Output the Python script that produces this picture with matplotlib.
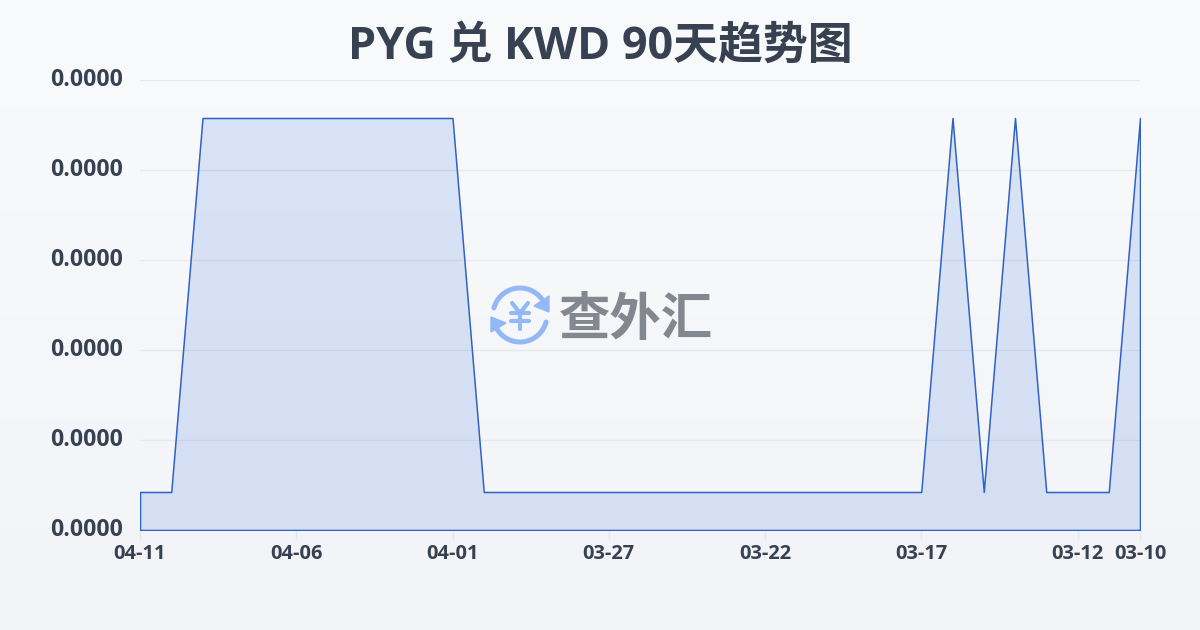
import matplotlib
matplotlib.use('Agg')
import matplotlib.pyplot as plt
import numpy as np
from matplotlib.patches import Arc, Polygon
from matplotlib.transforms import ScaledTranslation

plt.rcParams['font.family'] = ['Open Sans', 'Noto Sans CJK SC', 'DejaVu Sans']

# Rates (they all round to 0.0000 on the axis)
low = 0.0000038
high = 0.0000412
dates = ['04-11', '04-10', '04-09', '04-08', '04-07', '04-06', '04-05', '04-04', '04-03',
         '04-02', '04-01', '03-31', '03-30', '03-29', '03-28', '03-27', '03-26', '03-25',
         '03-24', '03-23', '03-22', '03-21', '03-20', '03-19', '03-18', '03-17', '03-16',
         '03-15', '03-14', '03-13', '03-12', '03-11', '03-10']
rates = [low, low, high, high, high, high, high, high, high, high, high,
         low, low, low, low, low, low, low, low, low, low, low, low, low, low, low,
         high, low, high, low, low, low, high]
xtick_labels = ['04-11', '04-06', '04-01', '03-27', '03-22', '03-17', '03-12', '03-10']
ytick_values = [0, 0.000009, 0.000018, 0.000027, 0.000036, 0.000045]

text_color = '#374151'
line_color = '#2f62c8'
fill_color = (0.165, 0.40, 0.87, 0.15)
grid_color = '#e5e8ec'

fig = plt.figure(figsize=(12, 6.3), dpi=100)

# background gradient
bg = fig.add_axes([0, 0, 1, 1], zorder=0)
bg.imshow(np.linspace(0, 1, 256).reshape(-1, 1), aspect='auto', extent=(0, 1, 0, 1),
          cmap=matplotlib.colors.LinearSegmentedColormap.from_list('bg', ['#f9fafc', '#f3f4f7']))
bg.axis('off')

# main chart, 140..1140 px wide and 80..530 px down
ax = fig.add_axes([140 / 1200, 100 / 630, 1000 / 1200, 450 / 630], zorder=1)
ax.patch.set_alpha(0)
x = list(range(len(dates)))
ax.fill_between(x, rates, 0, facecolor=fill_color, edgecolor=line_color, linewidth=1.1, zorder=3)
ax.set_xlim(0, len(dates) - 1)
ax.set_ylim(0, 0.000045)

ax.set_yticks(ytick_values)
ax.set_yticklabels(['%.4f' % v for v in ytick_values], fontweight='bold', fontsize=16.6, color=text_color)
ax.set_xticks([dates.index(d) for d in xtick_labels])
ax.set_xticklabels(xtick_labels, fontweight='bold', fontsize=14.4, color=text_color)
ax.tick_params(axis='y', length=0, pad=12.5)
ax.tick_params(axis='x', length=7, width=1, color=grid_color, pad=3)
ax.grid(axis='y', color=grid_color, linewidth=1)
ax.set_axisbelow(True)
for side in ax.spines:
    ax.spines[side].set_visible(False)

# y labels sit a little above their grid lines
for label in ax.get_yticklabels():
    label.set_transform(label.get_transform() + ScaledTranslation(0, 2.5 / 72, fig.dpi_scale_trans))

fig.text(0.5, 1 - 47 / 630, 'PYG 兑 KWD 90天趋势图', ha='center', va='center',
         fontsize=32.3, fontweight='bold', color=text_color)

# watermark logo, drawn in pixel coordinates
logo = fig.add_axes([0, 0, 1, 1], zorder=2)
logo.set_xlim(0, 1200)
logo.set_ylim(630, 0)
logo.axis('off')
logo.patch.set_alpha(0)
blue = '#93b8f8'
logo.add_patch(Arc((520, 315), 54, 54, theta1=195, theta2=325, color=blue, lw=3.6, capstyle='round'))
logo.add_patch(Arc((520, 315), 54, 54, theta1=15, theta2=150, color=blue, lw=3.6, capstyle='round'))
logo.add_patch(Polygon([(549, 296), (549, 312), (534, 306)], color=blue))
logo.add_patch(Polygon([(491, 317), (491, 332), (506, 323)], color=blue))
logo.plot([512, 520, 528], [303, 313, 303], color=blue, lw=3, solid_capstyle='round')
logo.plot([520, 520], [313, 329], color=blue, lw=3, solid_capstyle='round')
logo.plot([511, 529], [313, 313], color=blue, lw=3, solid_capstyle='round')
logo.plot([511, 529], [321, 321], color=blue, lw=3, solid_capstyle='round')
logo.text(635.5, 319, '查外汇', ha='center', va='center', fontsize=37, fontweight='bold',
          family=['Noto Sans CJK SC', 'DejaVu Sans'], color='#83878f')

fig.savefig('out.png', dpi=100)
